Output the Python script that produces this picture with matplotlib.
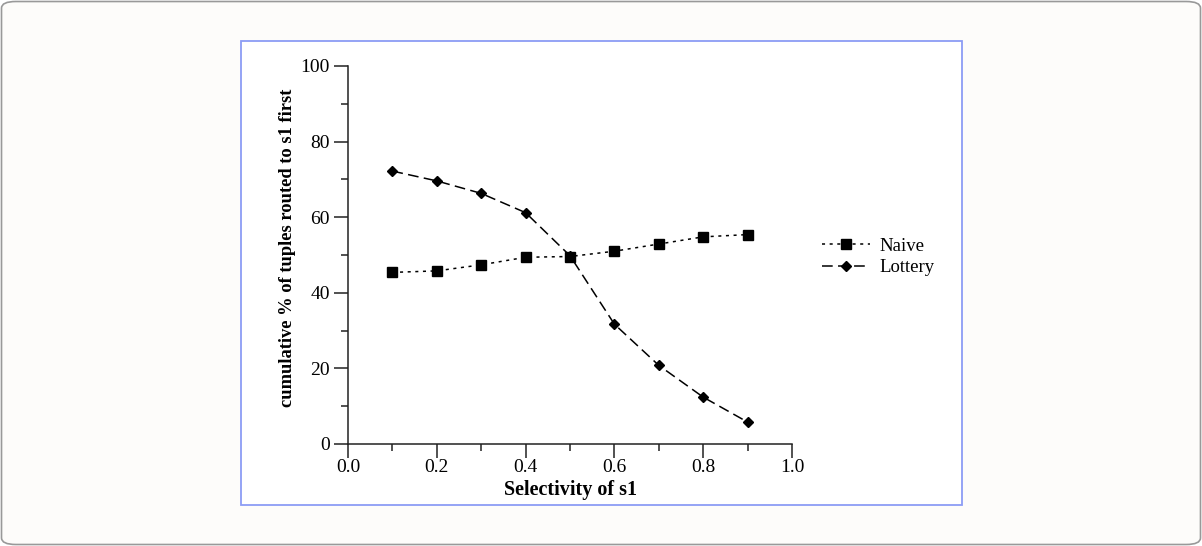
import matplotlib
matplotlib.use("Agg")
import matplotlib.pyplot as plt
from matplotlib.patches import Rectangle, FancyBboxPatch
from matplotlib.ticker import MultipleLocator

selectivity = [0.1, 0.2, 0.3, 0.4, 0.5, 0.6, 0.7, 0.8, 0.9]
naive = [45.4, 45.8, 47.4, 49.4, 49.6, 51.0, 52.9, 54.8, 55.4]
lottery = [72.2, 69.6, 66.3, 61.2, 49.8, 31.7, 20.8, 12.4, 5.8]

plt.rcParams['font.family'] = ['Liberation Serif', 'DejaVu Serif']

W, H = 1202, 546
fig = plt.figure(figsize=(W / 100, H / 100), dpi=100)
fig.patch.set_facecolor('white')

# outer rounded frame
outer = FancyBboxPatch((1.5 / W, 1.5 / H), (W - 3) / W, (H - 3) / H,
                       boxstyle="round,pad=0,rounding_size=0.012",
                       transform=fig.transFigure, facecolor='#fdfcfa',
                       edgecolor='#999999', linewidth=1.2, zorder=-10)
fig.patches.append(outer)
# inner blue box
inner = Rectangle((241 / W, (H - 505) / H), (962 - 241) / W, (505 - 41) / H,
                  transform=fig.transFigure, facecolor='white',
                  edgecolor='#8c9cf5', linewidth=1.3, zorder=-9)
fig.patches.append(inner)

ax = fig.add_axes([348 / W, (H - 444) / H, (792 - 348) / W, (444 - 66) / H])
ax.set_facecolor('none')

ax.plot(selectivity, naive, linestyle=(0, (2, 3)), color='black', linewidth=1.1,
        marker='s', markersize=7, label='Naive')
ax.plot(selectivity, lottery, linestyle=(0, (7, 3.5)), color='black', linewidth=1.1,
        marker='D', markersize=5, label='Lottery')

ax.set_xlim(0, 1.0)
ax.set_ylim(0, 100)
ax.xaxis.set_major_locator(MultipleLocator(0.2))
ax.xaxis.set_minor_locator(MultipleLocator(0.1))
ax.yaxis.set_major_locator(MultipleLocator(20))
ax.yaxis.set_minor_locator(MultipleLocator(10))
ax.set_xticklabels([f"{v:.1f}" for v in ax.get_xticks()])

for s in ['top', 'right']:
    ax.spines[s].set_visible(False)
for s in ['left', 'bottom']:
    ax.spines[s].set_linewidth(1.1)
    ax.spines[s].set_color('#222222')

ax.tick_params(axis='both', which='major', direction='out', length=10, width=1.1,
               labelsize=14, colors='#222222', labelcolor='black')
ax.tick_params(axis='x', which='major', pad=0.5)
ax.tick_params(axis='y', which='major', pad=3)
ax.tick_params(axis='both', which='minor', direction='out', length=5, width=1.1,
               colors='#222222')

ax.set_xlabel('Selectivity of s1', fontsize=14.5, fontweight='bold', labelpad=3)
ax.set_ylabel('cumulative % of tuples routed to s1 first', fontsize=13.3,
              fontweight='bold')
ax.yaxis.set_label_coords(-0.118, 0.52)

leg = ax.legend(loc='center left', bbox_to_anchor=(1.03, 0.495), frameon=False,
                fontsize=13.5, handlelength=2.55, handletextpad=0.5, labelspacing=0.25)

fig.savefig('out.png', dpi=100, facecolor=fig.get_facecolor())
